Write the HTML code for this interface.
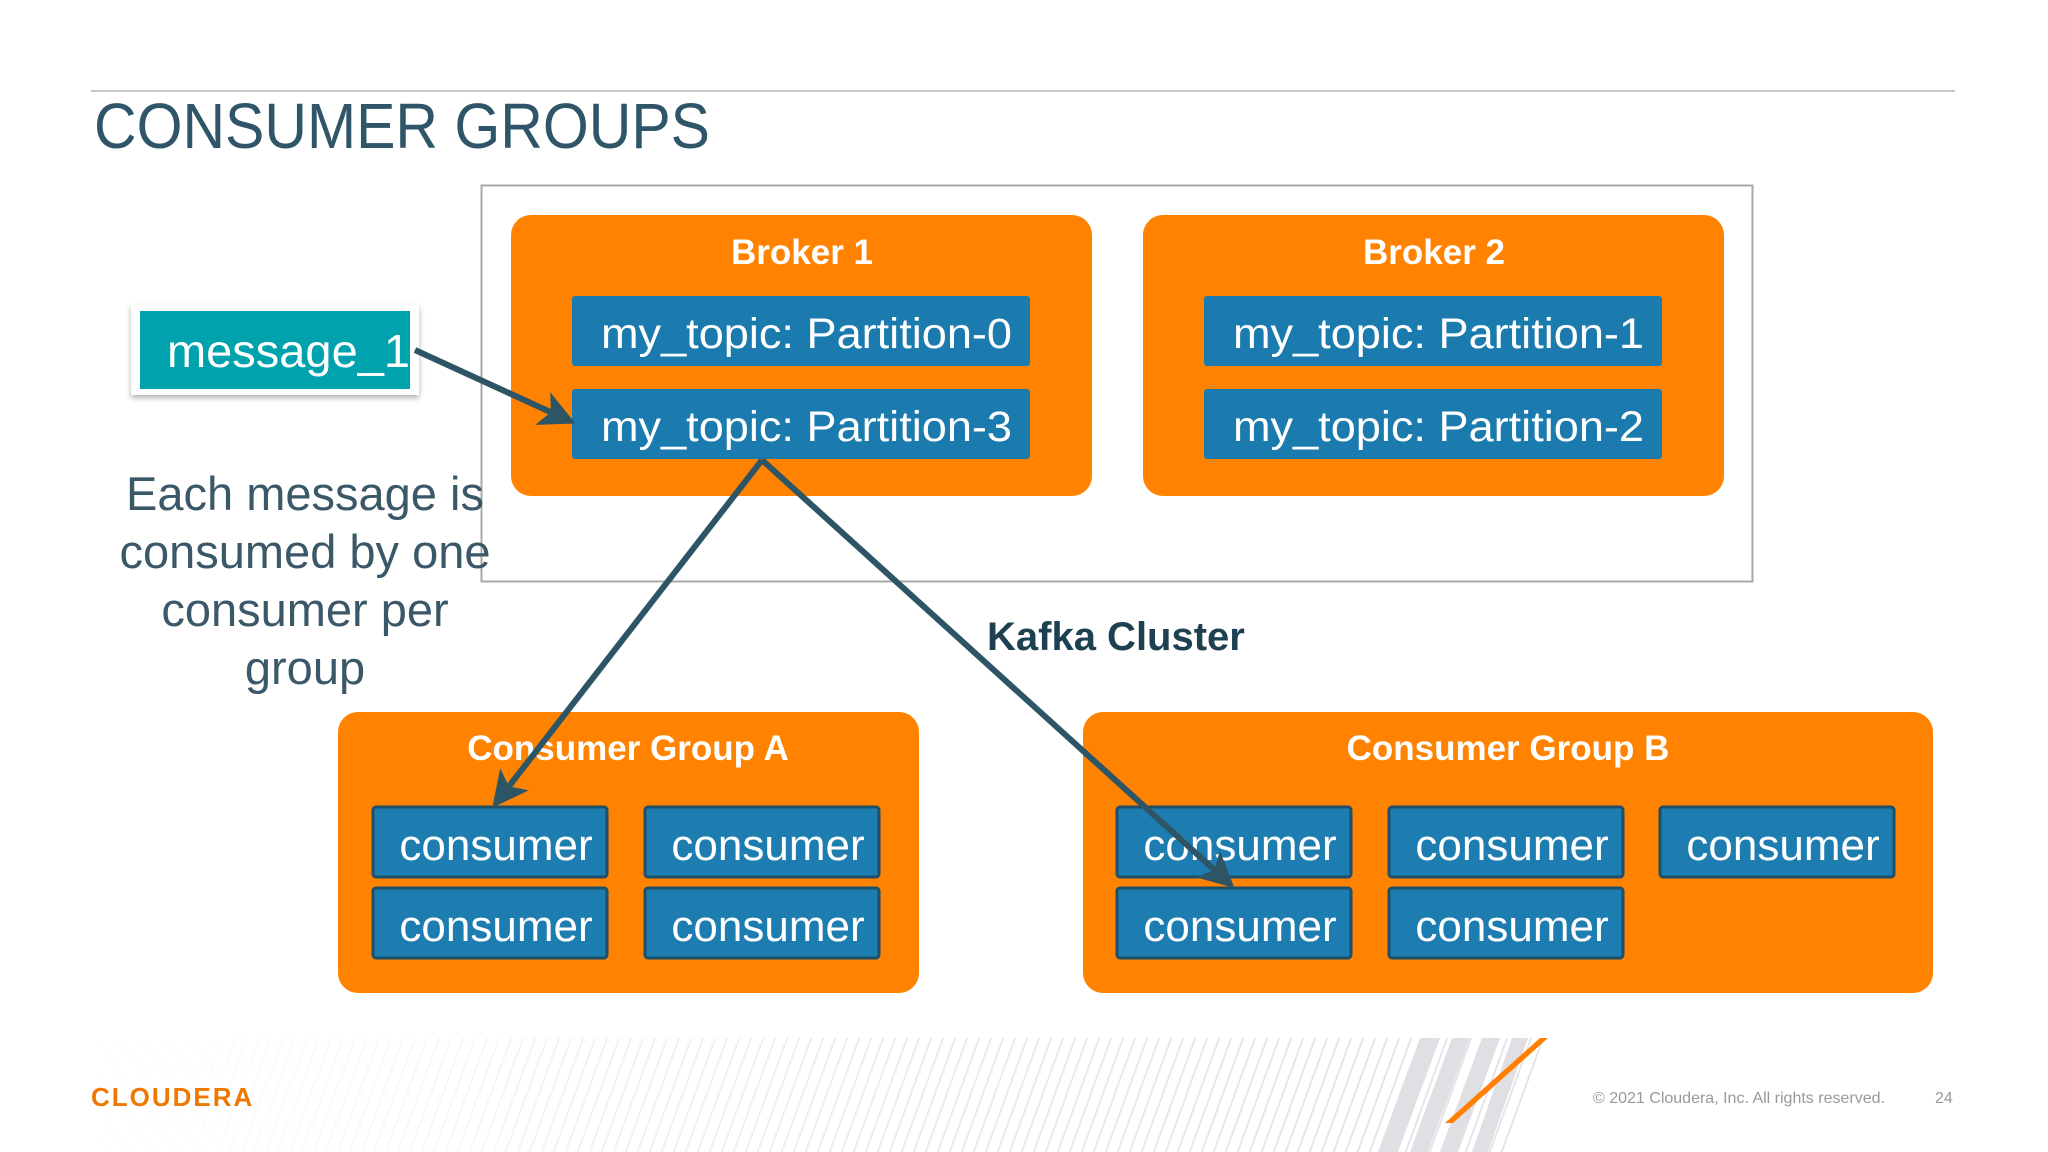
<!DOCTYPE html>
<html><head><meta charset="utf-8"><style>
html,body{margin:0;padding:0;background:#fff}
svg{display:block}
text{font-family:"Liberation Sans",sans-serif}
</style></head><body>
<svg width="2048" height="1152" viewBox="0 0 2048 1152" xmlns="http://www.w3.org/2000/svg">
<defs>
<pattern id="st" width="12" height="12" patternUnits="userSpaceOnUse" patternTransform="skewX(-20)">
<rect x="0" y="0" width="2" height="12" fill="#e4e4e8"/>
</pattern>
<linearGradient id="fade" x1="0" x2="1" y1="0" y2="0">
<stop offset="0" stop-color="#fff" stop-opacity="1"/>
<stop offset="0.6" stop-color="#fff" stop-opacity="0.3"/>
<stop offset="1" stop-color="#fff" stop-opacity="0"/>
</linearGradient>
<filter id="sh" x="-10%" y="-10%" width="120%" height="130%">
<feDropShadow dx="0" dy="3" stdDeviation="3" flood-color="#000" flood-opacity="0.3"/>
</filter>
<marker id="ah" markerWidth="6" markerHeight="6" refX="5" refY="3" orient="auto" markerUnits="strokeWidth">
<path d="M0,0 L6,3 L0,6 L1.5,3 z" fill="#2e5566"/>
</marker>
</defs>
<!-- footer stripes -->
<polygon points="80,1038 1546,1038 1505,1152 80,1152" fill="url(#st)"/>
<rect x="80" y="1038" width="1300" height="114" fill="url(#fade)"/>
<polygon points="1420,1038 1440,1038 1398,1152 1378,1152" fill="#e0e0e4"/>
<polygon points="1452,1038 1470,1038 1428,1152 1410,1152" fill="#e0e0e4"/>
<polygon points="1482,1038 1500,1038 1458,1152 1440,1152" fill="#e0e0e4"/>
<polygon points="1512,1038 1528,1038 1488,1152 1472,1152" fill="#e0e0e4"/>
<polygon points="1540,1038 1548,1038 1453,1123 1445,1123" fill="#ff7f00"/>
<text x="91" y="1106" font-size="26" font-weight="bold" fill="#f07800" letter-spacing="2">CLOUDERA</text>
<text x="1593" y="1103" font-size="16" fill="#999">© 2021 Cloudera, Inc. All rights reserved.</text>
<text x="1935" y="1103" font-size="16" fill="#999">24</text>

<!-- header -->
<rect x="91" y="90" width="1864" height="2" fill="#c8c8c8"/>
<text x="94" y="148" font-size="64" fill="#2f5568" textLength="616" lengthAdjust="spacingAndGlyphs">CONSUMER GROUPS</text>

<!-- cluster -->
<rect x="481.5" y="185.5" width="1271" height="396" fill="none" stroke="#a8a8a8" stroke-width="2"/>
<rect x="511" y="215" width="581" height="281" rx="20" fill="#ff8200"/>
<rect x="1143" y="215" width="581" height="281" rx="20" fill="#ff8200"/>
<text x="802" y="264" font-size="35" font-weight="bold" fill="#fff" text-anchor="middle">Broker 1</text>
<text x="1434" y="264" font-size="35" font-weight="bold" fill="#fff" text-anchor="middle">Broker 2</text>
<g font-size="43" fill="#fff">
<rect x="572" y="296" width="458" height="70" rx="3" fill="#1b7bae"/>
<text x="601" y="348" textLength="411" lengthAdjust="spacingAndGlyphs">my_topic: Partition-0</text>
<rect x="572" y="389" width="458" height="70" rx="3" fill="#1b7bae"/>
<text x="601" y="441" textLength="411" lengthAdjust="spacingAndGlyphs">my_topic: Partition-3</text>
<rect x="1204" y="296" width="458" height="70" rx="3" fill="#1b7bae"/>
<text x="1233" y="348" textLength="411" lengthAdjust="spacingAndGlyphs">my_topic: Partition-1</text>
<rect x="1204" y="389" width="458" height="70" rx="3" fill="#1b7bae"/>
<text x="1233" y="441" textLength="411" lengthAdjust="spacingAndGlyphs">my_topic: Partition-2</text>
</g>

<!-- message -->
<rect x="131" y="305" width="288" height="90" fill="#fff" filter="url(#sh)"/>
<rect x="140" y="311" width="270" height="78" fill="#00a3ad"/>
<text x="167" y="367" font-size="46" fill="#fff" textLength="243" lengthAdjust="spacingAndGlyphs">message_1</text>

<g font-size="47" fill="#3b5868" text-anchor="middle">
<text x="305" y="510">Each message is</text>
<text x="305" y="568">consumed by one</text>
<text x="305" y="626">consumer per</text>
<text x="305" y="684">group</text>
</g>

<text x="987" y="650" font-size="40" font-weight="bold" fill="#1f4050">Kafka Cluster</text>

<!-- groups -->
<rect x="338" y="712" width="581" height="281" rx="20" fill="#ff8200"/>
<rect x="1083" y="712" width="850" height="281" rx="20" fill="#ff8200"/>
<text x="628" y="760" font-size="35" font-weight="bold" fill="#fff" text-anchor="middle">Consumer Group A</text>
<text x="1508" y="760" font-size="35" font-weight="bold" fill="#fff" text-anchor="middle">Consumer Group B</text>
<g font-size="44" fill="#fff" text-anchor="middle">
<g stroke="#1d4f68" stroke-width="3">
<rect x="373" y="807" width="234" height="70" rx="3" fill="#1e7db0"/>
<rect x="645" y="807" width="234" height="70" rx="3" fill="#1e7db0"/>
<rect x="373" y="888" width="234" height="70" rx="3" fill="#1e7db0"/>
<rect x="645" y="888" width="234" height="70" rx="3" fill="#1e7db0"/>
<rect x="1117" y="807" width="234" height="70" rx="3" fill="#1e7db0"/>
<rect x="1389" y="807" width="234" height="70" rx="3" fill="#1e7db0"/>
<rect x="1660" y="807" width="234" height="70" rx="3" fill="#1e7db0"/>
<rect x="1117" y="888" width="234" height="70" rx="3" fill="#1e7db0"/>
<rect x="1389" y="888" width="234" height="70" rx="3" fill="#1e7db0"/>
</g>
<text x="496" y="860">consumer</text>
<text x="768" y="860">consumer</text>
<text x="496" y="941">consumer</text>
<text x="768" y="941">consumer</text>
<text x="1240" y="860">consumer</text>
<text x="1512" y="860">consumer</text>
<text x="1783" y="860">consumer</text>
<text x="1240" y="941">consumer</text>
<text x="1512" y="941">consumer</text>
</g>

<!-- arrows -->
<g stroke="#2e5566" stroke-width="6" fill="none" marker-end="url(#ah)">
<line x1="415" y1="350" x2="570" y2="421"/>
<line x1="762" y1="460" x2="496" y2="803"/>
<line x1="762" y1="460" x2="1230" y2="884"/>
</g>
</svg>
</body></html>
